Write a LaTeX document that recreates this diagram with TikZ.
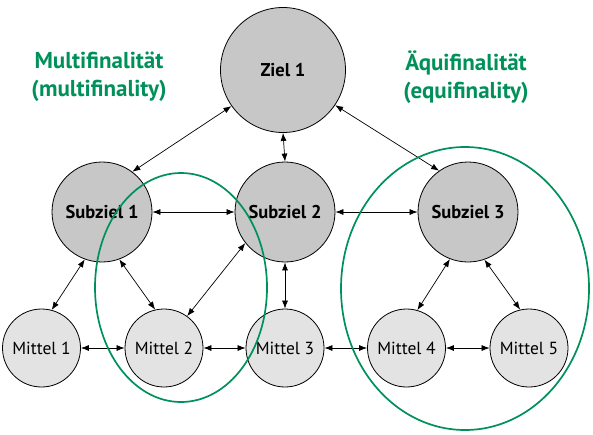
\documentclass[tikz,border=0pt]{standalone}
\usepackage{fontspec}
\setmainfont{PT Sans}
\usetikzlibrary{arrows.meta}
\definecolor{finalgreen}{RGB}{0,145,90}
\tikzset{
  ziel/.style={circle, draw, line width=0.8pt, fill=black!22, inner sep=0pt,
    font=\fontsize{18.5}{21}\selectfont\bfseries},
  mittel/.style={circle, draw, line width=0.8pt, fill=black!11, inner sep=0pt,
    minimum size=78pt, font=\fontsize{17.5}{20}\selectfont},
  link/.style={{Latex[length=8pt,width=6pt]}-{Latex[length=8pt,width=6pt]}, line width=0.7pt},
  final/.style={draw=finalgreen, line width=1.7pt},
  finaltext/.style={text=finalgreen, align=center,
    font=\fontsize{23}{28}\selectfont\bfseries}
}
\begin{document}
\begin{tikzpicture}[x=1pt,y=-1pt]
  \useasboundingbox (0,0) rectangle (593,434);
  % goals
  \node[ziel, minimum size=125pt] (z1) at (283,70) {Ziel 1};
  \node[ziel, minimum size=100pt] (s1) at (102,212) {Subziel 1};
  \node[ziel, minimum size=100pt] (s2) at (285,212) {Subziel 2};
  \node[ziel, minimum size=100pt] (s3) at (468,212) {Subziel 3};
  % means
  \node[mittel] (m1) at (41.5,348) {Mittel 1};
  \node[mittel] (m2) at (164,348) {Mittel 2};
  \node[mittel] (m3) at (285,348) {Mittel 3};
  \node[mittel] (m4) at (406.5,348) {Mittel 4};
  \node[mittel] (m5) at (529,348) {Mittel 5};
  % labels
  \node[finaltext] (multi) at (99,77) {Multifinalität\\(multifinality)};
  \node[finaltext] (equi) at (466,77) {Äquifinalität\\(equifinality)};
  % links
  \draw[link] (s1.53) -- (z1.215);
  \draw[link] (s2.north) -- (z1.south);
  \draw[link] (s3.125) -- (z1.-34);
  \draw[link] (s1) -- (s2);
  \draw[link] (s2) -- (s3);
  \draw[link] (s1.-110) -- (m1.75);
  \draw[link] (s1.-70) -- (m2.103);
  \draw[link] (s2.-142) -- (m2.54);
  \draw[link] (s2.south) -- (m3.north);
  \draw[link] (s3.-111) -- (m4.74);
  \draw[link] (s3.-71) -- (m5.103);
  \draw[link] (m1) -- (m2);
  \draw[link] (m2) -- (m3);
  \draw[link] (m3) -- (m4);
  \draw[link] (m4) -- (m5);
  % groups
  \draw[final] (181,287.5) ellipse [x radius=86pt, y radius=114.5pt];
  \draw[final] (465,288.5) ellipse [x radius=124pt, y radius=141.5pt];
\end{tikzpicture}
\end{document}
